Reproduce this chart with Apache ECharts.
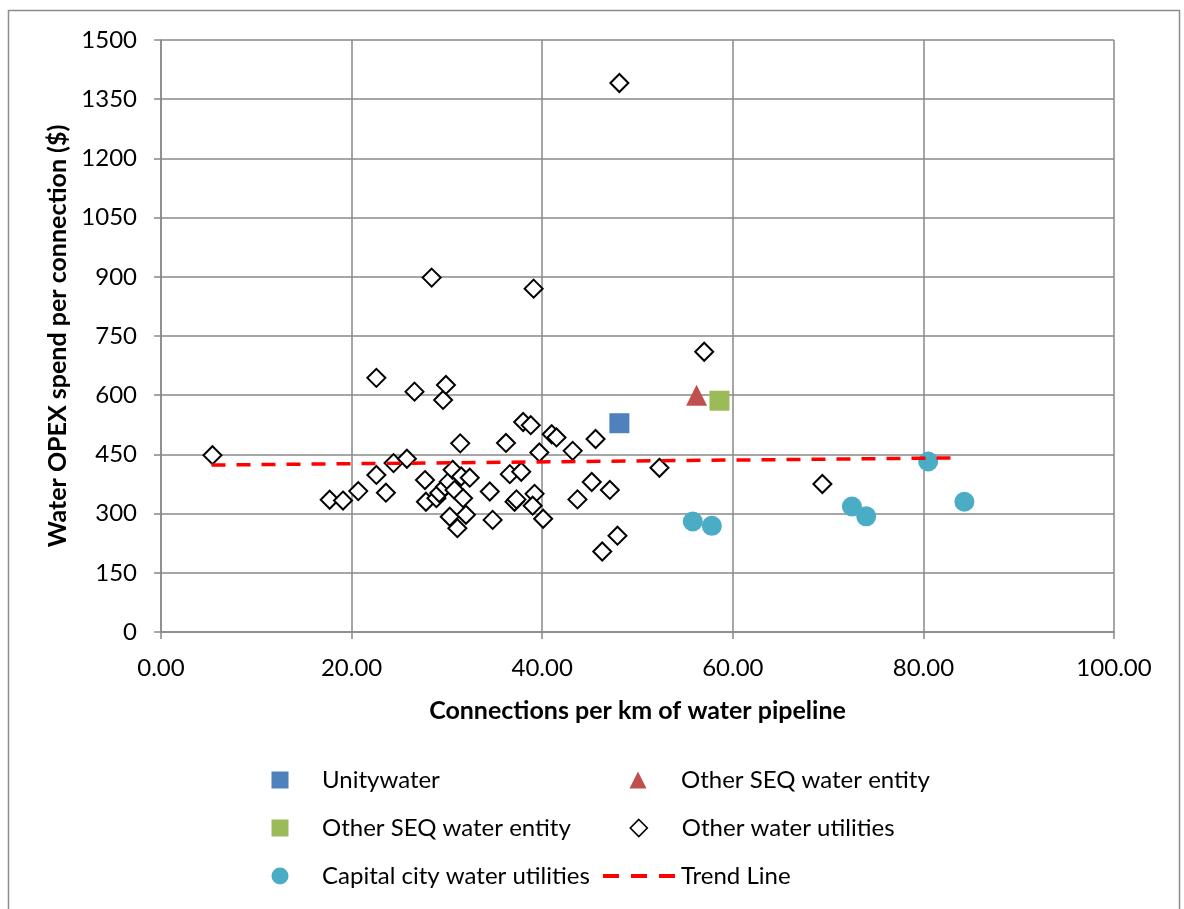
<!DOCTYPE html>
<html>
<head>
<meta charset="utf-8">
<script src="https://cdn.jsdelivr.net/npm/echarts@6/dist/echarts.min.js"></script>
<style>
  html, body { margin: 0; padding: 0; background: #fff; }
  #chart { width: 1184px; height: 909px; }
</style>
</head>
<body>
<div id="chart"></div>
<script>
// ---- data ----
const unityX = [48.1];
const unityY = [529];
const seqTriX = [56.2];
const seqTriY = [600];
const seqSqX = [58.6];
const seqSqY = [586];
const otherX = [5.4, 17.7, 19.1, 20.7, 22.6, 22.6, 23.6, 24.4, 25.8, 26.6, 27.7, 27.8, 28.4, 29.6, 29.9,
  28.9, 29.2, 29.8, 30.2, 30.6, 30.8, 31.5, 31.7, 32.4, 30.3, 32.0, 31.1, 31.4, 34.5, 34.8,
  36.2, 36.6, 37.8, 37.1, 37.3, 38.0, 38.8, 39.1, 39.7, 39.2, 39.0, 40.1, 41.0, 41.5, 43.2,
  43.7, 45.2, 45.6, 47.1, 47.9, 46.3, 48.1, 52.3, 57.0, 69.4];
const otherY = [448, 335, 333, 357, 398, 644, 353, 428, 439, 609, 385, 330, 898, 588, 626,
  339, 352, 368, 381, 411, 360, 394, 339, 391, 292, 297, 263, 478, 356, 284,
  479, 400, 406, 330, 336, 532, 524, 870, 455, 350, 320, 287, 501, 493, 459,
  336, 380, 489, 360, 244, 204, 1391, 416, 710, 375];
const capX = [55.8, 57.8, 72.5, 74.0, 80.5, 84.3];
const capY = [280, 269, 318, 293, 432, 330];
const trendX = [5.3, 82.9];
const trendY = [423, 441];

const seriesNames = ['Unitywater', 'Other SEQ water entity', 'Other SEQ water entity ', 'Other water utilities', 'Capital city water utilities', 'Trend Line'];
const xTitle = 'Connections per km of water pipeline';
const yTitle = 'Water OPEX spend per connection ($)';

const zip = (xs, ys) => xs.map((x, i) => [x, ys[i]]);

const FONT = 'Lato';
const gridColor = '#898989';

// scatter legend entry: marker centred at cx, text starting at textX
function markerLegend(item, cx, textX, rowCenter) {
  const size = 17;
  const left = cx - size / 2;
  return {
    show: true, left: left, top: rowCenter - 12, padding: 0,
    itemWidth: size, itemHeight: size, selectedMode: false,
    data: [item], formatter: n => n.trim(),
    itemStyle: { opacity: 1 },
    textStyle: { fontFamily: FONT, fontSize: 24, color: '#000',
      padding: [0, 0, 0, textX - (left + size + 5)] }
  };
}

const chart = echarts.init(document.getElementById('chart'), null, { renderer: 'canvas' });
chart.setOption({
  animation: false,
  backgroundColor: '#fff',
  graphic: [{
    type: 'rect', z: -10,
    shape: { x: 8.5, y: 10.5, width: 1171, height: 930 },
    style: { fill: 'none', stroke: '#8c8c8c', lineWidth: 1.5 }
  }],
  grid: { left: 161, right: 70, top: 40, bottom: 277 },
  xAxis: {
    type: 'value', min: 0, max: 100, interval: 20,
    name: xTitle, nameLocation: 'middle', nameGap: 66,
    nameTextStyle: { fontFamily: FONT, fontSize: 25, fontWeight: 'bold', color: '#000' },
    axisLine: { show: true, lineStyle: { color: gridColor, width: 1.5 } },
    axisTick: { show: true, length: 7, lineStyle: { color: gridColor, width: 1.5 } },
    axisLabel: { margin: 24, fontFamily: FONT, fontSize: 24, color: '#000', formatter: v => v.toFixed(2) },
    splitLine: { show: true, lineStyle: { color: gridColor, width: 1.5 } }
  },
  yAxis: {
    type: 'value', min: 0, max: 1500, interval: 150,
    name: yTitle, nameLocation: 'middle', nameGap: 87, nameRotate: 90,
    nameTextStyle: { fontFamily: FONT, fontSize: 25, fontWeight: 'bold', color: '#000' },
    axisLine: { show: true, lineStyle: { color: gridColor, width: 1.5 } },
    axisTick: { show: true, length: 7, lineStyle: { color: gridColor, width: 1.5 } },
    axisLabel: { margin: 24, fontFamily: FONT, fontSize: 24, color: '#000', formatter: v => String(v) },
    splitLine: { show: true, lineStyle: { color: gridColor, width: 1.5 } }
  },
  legend: [
    markerLegend(seriesNames[0], 280, 322, 780),
    markerLegend(seriesNames[1], 638, 681, 780),
    markerLegend(seriesNames[2], 280, 322, 828),
    markerLegend({ name: seriesNames[3], itemStyle: { color: '#fff', borderColor: '#000', borderWidth: 1.6, opacity: 1 } }, 638, 681, 828),
    markerLegend(seriesNames[4], 280, 322, 876),
    {
      show: true, left: 603, top: 876 - 12, padding: 0,
      itemWidth: 72, itemHeight: 4, selectedMode: false,
      data: [{ name: seriesNames[5], icon: 'path://M0,0h16v4h-16zM28,0h16v4h-16zM56,0h16v4h-16z',
        itemStyle: { color: '#ff0000', opacity: 1 } }],
      textStyle: { fontFamily: FONT, fontSize: 24, color: '#000', padding: [0, 0, 0, 1] }
    }
  ],
  series: [
    { name: seriesNames[0], type: 'scatter', symbol: 'rect', symbolSize: 20,
      itemStyle: { color: '#4F81BD', opacity: 1 }, data: zip(unityX, unityY) },
    { name: seriesNames[1], type: 'scatter', symbol: 'triangle', symbolSize: 21,
      itemStyle: { color: '#C0504D', opacity: 1 }, data: zip(seqTriX, seqTriY) },
    { name: seriesNames[2], type: 'scatter', symbol: 'rect', symbolSize: 20,
      itemStyle: { color: '#9BBB59', opacity: 1 }, data: zip(seqSqX, seqSqY) },
    { name: seriesNames[3], type: 'scatter', symbol: 'diamond', symbolSize: 18,
      itemStyle: { color: '#fff', borderColor: '#000', borderWidth: 2, opacity: 1 }, data: zip(otherX, otherY) },
    { name: seriesNames[4], type: 'scatter', symbol: 'circle', symbolSize: 20,
      itemStyle: { color: '#4BACC6', opacity: 1 }, data: zip(capX, capY) },
    { name: seriesNames[5], type: 'line', symbol: 'none', showSymbol: false,
      lineStyle: { color: '#ff0000', width: 3.5, type: [14, 11] },
      itemStyle: { color: '#ff0000' }, data: zip(trendX, trendY) }
  ]
});
</script>
</body>
</html>
